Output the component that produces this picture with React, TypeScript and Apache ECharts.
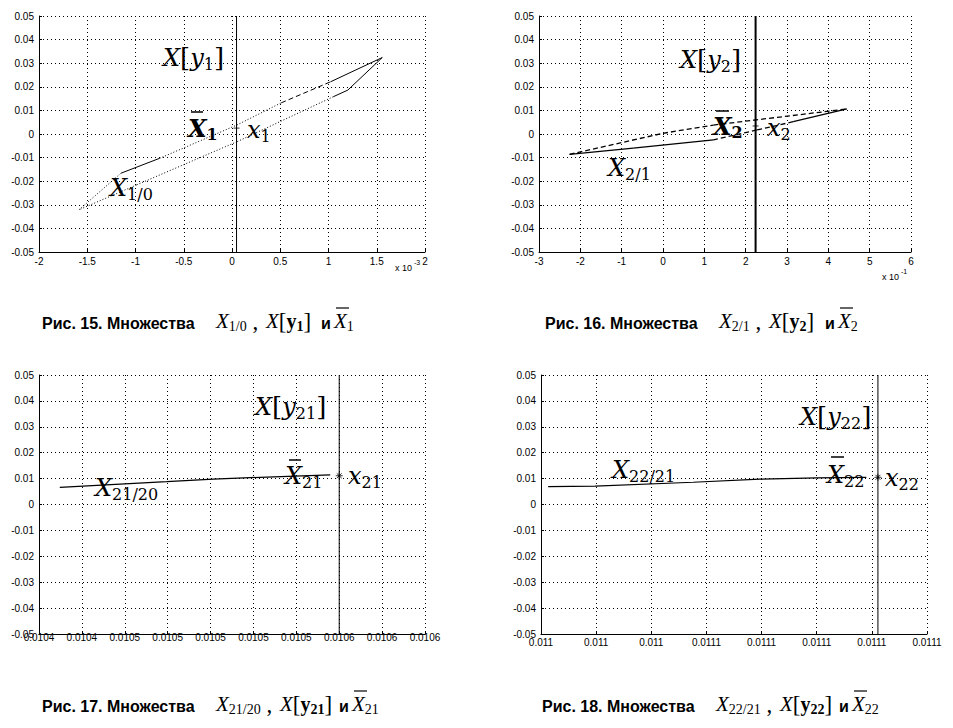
import React, { useEffect, useRef } from "react";
import * as echarts from "echarts";

// ---------- data ----------
// Рис. 15 : X_{1/0} polygon (x in units of 1e-3)
const p1Vertices: [number, number][] = [
  [-1.585, -0.0321],
  [-1.15, -0.0166],
  [-0.75, -0.0103],
  [0.05, 0.0038],
  [0.51, 0.0132],
  [1.02, 0.0221],
  [1.557, 0.0324],
  [1.2, 0.0186],
  [1.05, 0.0158],
  [0.05, -0.0033],
  [-0.99, -0.0216],
];
const p1EdgeStyles = ["dotted", "solid", "dotted", "dotted", "dashed", "solid", "solid", "solid", "dotted", "dotted", "dotted"];
const p1LineX = 0.047;
const p1Point: [number, number] = [0.047, 0.0025];

// Рис. 16 : X_{2/1} polygon (x in units of 1e-1)
const p2Vertices: [number, number][] = [
  [-2.26, -0.0086],
  [0.0, 0.0003],
  [1.22, 0.0038],
  [4.45, 0.0106],
  [3.15, 0.0052],
  [2.27, 0.0017],
  [1.22, -0.0025],
  [-0.72, -0.006],
];
const p2EdgeStyles = ["dashed", "dashed", "dashed", "solid", "dashed", "dashed", "solid", "solid"];
const p2LineX = 2.24;
const p2Point: [number, number] = [2.24, 0.0034];

// Рис. 17 : X_{21/20}
const p3Line: [number, number][] = [
  [0.0104297, 0.0066],
  [0.0104795, 0.0088],
  [0.0105013, 0.0098],
  [0.0105231, 0.0105],
  [0.0105558, 0.0114],
];
const p3LineX = 0.01056;
const p3Point: [number, number] = [0.01056, 0.0111];
const p3XLabels = ["0.0104", "0.0104", "0.0105", "0.0105", "0.0105", "0.0105", "0.0105", "0.0106", "0.0106", "0.0106"];

// Рис. 18 : X_{22/21}
const p4Line: [number, number][] = [
  [0.0110213, 0.0069],
  [0.0110298, 0.0071],
  [0.0110476, 0.0086],
  [0.0110597, 0.0098],
  [0.01107, 0.0103],
  [0.011079, 0.0105],
];
const p4LineX = 0.0110811;
const p4Point: [number, number] = [0.0110811, 0.0105];
const p4XLabels = ["0.011", "0.011", "0.011", "0.0111", "0.0111", "0.0111", "0.0111", "0.0111"];

// axes
const yMin = -0.05;
const yMax = 0.05;
const yStep = 0.01;
const xAxesDef = [
  { min: -2, max: 2, interval: 0.5, labels: null as string[] | null },
  { min: -3, max: 6, interval: 1, labels: null as string[] | null },
  { min: 0.01042, max: 0.0106, interval: 0.00002, labels: p3XLabels },
  { min: 0.01102, max: 0.01109, interval: 0.00001, labels: p4XLabels },
];

// ---------- helpers ----------
const DASH: Record<string, any> = { solid: "solid", dashed: [5, 3], dotted: [1, 2] };
const STAR = "path://M5,0L5,10M0,5L10,5M1.5,1.5L8.5,8.5M1.5,8.5L8.5,1.5";
const PLUS = "path://M5,0L5,10M0,5L10,5";

function polygonSeries(vertices: [number, number][], styles: string[], idx: number, width: number) {
  return vertices.map((v, i) => {
    const w = vertices[(i + 1) % vertices.length];
    return {
      type: "line",
      xAxisIndex: idx,
      yAxisIndex: idx,
      data: [v, w],
      symbol: "none",
      silent: true,
      lineStyle: { color: "#000", width, type: DASH[styles[i]] },
    };
  });
}
function polylineSeries(pts: [number, number][], idx: number, width: number) {
  return {
    type: "line",
    xAxisIndex: idx,
    yAxisIndex: idx,
    data: pts,
    symbol: "none",
    silent: true,
    lineStyle: { color: "#000", width },
  };
}
function vline(x: number, idx: number, width: number) {
  return polylineSeries([[x, yMin], [x, yMax]], idx, width);
}
function marker(p: [number, number], idx: number, sym: string, size: number) {
  return {
    type: "scatter",
    xAxisIndex: idx,
    yAxisIndex: idx,
    data: [p],
    symbol: sym,
    symbolSize: size,
    silent: true,
    itemStyle: { color: "rgba(0,0,0,0)", borderColor: "#000", borderWidth: 1 },
  };
}

const MF = "DejaVu Serif";
function richSet(size: number) {
  const sub = Math.round(size * 0.68);
  return {
    i: { fontFamily: MF, fontStyle: "italic", fontSize: size, fill: "#000", color: "#000" },
    ib: { fontFamily: MF, fontStyle: "italic", fontWeight: "bold", fontSize: size, fill: "#000", color: "#000" },
    n: { fontFamily: MF, fontSize: Math.round(size * 1.1), fill: "#000", color: "#000" },
    s: { fontFamily: MF, fontSize: sub, padding: [Math.round(size * 0.5), 0, 0, 0], fill: "#000", color: "#000" },
    sb: { fontFamily: MF, fontWeight: "bold", fontSize: sub, padding: [Math.round(size * 0.5), 0, 0, 0], fill: "#000", color: "#000" },
  };
}
function mtext(x: number, y: number, text: string, size: number) {
  return {
    type: "text",
    x,
    y,
    z: 100,
    silent: true,
    style: {
      text,
      rich: richSet(size),
      fill: "#000",
      font: `${size}px "${MF}"`,
      align: "left",
      verticalAlign: "middle",
      textAlign: "left",
      textVerticalAlign: "middle",
    },
  };
}
function bar(x1: number, x2: number, y: number, w = 1.5) {
  return { type: "line", z: 100, silent: true, shape: { x1, y1: y, x2, y2: y }, style: { stroke: "#000", lineWidth: w } };
}

const CF = "Liberation Serif";
function capRich() {
  return {
    i: { fontFamily: CF, fontStyle: "italic", fontSize: 21, fill: "#000", color: "#000" },
    n: { fontFamily: CF, fontSize: 23, fill: "#000", color: "#000" },
    b: { fontFamily: CF, fontWeight: "bold", fontSize: 20, fill: "#000", color: "#000" },
    s: { fontFamily: CF, fontSize: 14, padding: [10, 0, 0, 0], fill: "#000", color: "#000" },
    sb: { fontFamily: CF, fontWeight: "bold", fontSize: 14, padding: [10, 0, 0, 0], fill: "#000", color: "#000" },
  };
}
function ctext(x: number, y: number, text: string) {
  return {
    type: "text",
    x,
    y,
    z: 100,
    silent: true,
    style: {
      text,
      rich: capRich(),
      fill: "#000",
      font: `21px "${CF}"`,
      align: "left",
      verticalAlign: "middle",
      textAlign: "left",
      textVerticalAlign: "middle",
    },
  };
}
function btext(x: number, y: number, text: string) {
  return {
    type: "text",
    x,
    y,
    z: 100,
    silent: true,
    style: {
      text,
      fill: "#000",
      font: `bold 16px "Liberation Sans"`,
      align: "left",
      verticalAlign: "middle",
      textAlign: "left",
      textVerticalAlign: "middle",
    },
  };
}
function stext(x: number, y: number, text: string, size: number) {
  return {
    type: "text",
    x,
    y,
    z: 100,
    silent: true,
    style: {
      text,
      fill: "#000",
      font: `${size}px "Liberation Sans"`,
      align: "left",
      verticalAlign: "middle",
      textAlign: "left",
      textVerticalAlign: "middle",
    },
  };
}

function caption(x0: number, y: number, num: string, xs: number[], partA: string, partB: string, barSub: string) {
  return [
    btext(x0, y, `Рис. ${num}. Множества`),
    ctext(xs[0], y - 2, partA),
    ctext(xs[1], y - 2, partB),
    btext(xs[2], y, "и"),
    ctext(xs[3], y - 2, `{i|X}{s|${barSub}}`),
    bar(xs[3] + 2, xs[3] + 15, y - 15, 1.2),
  ];
}

export default function App() {
  const ref = useRef<HTMLDivElement>(null);
  useEffect(() => {
    if (!ref.current) return;
    const chart = echarts.init(ref.current, null, { renderer: "svg" });
    const grids = [
      { left: 39, top: 16, width: 386, height: 236 },
      { left: 539, top: 16, width: 372, height: 236 },
      { left: 39, top: 375, width: 386, height: 259 },
      { left: 541, top: 375, width: 386, height: 259 },
    ];
    const labelMargins = [4, 4, -2, 3];
    const xAxis = xAxesDef.map((d, i) => ({
      type: "value",
      gridIndex: i,
      min: d.min,
      max: d.max,
      interval: d.interval,
      axisLine: { show: true, onZero: false, lineStyle: { color: "#000", width: 1 } },
      axisTick: { show: true, inside: true, length: 3, lineStyle: { color: "#000" } },
      axisLabel: {
        color: "#000",
        fontFamily: "Liberation Sans",
        fontSize: 10,
        margin: labelMargins[i],
        showMinLabel: true,
        showMaxLabel: true,
        hideOverlap: false,
        formatter: d.labels ? (_v: number, idx: number) => (d.labels as string[])[idx] ?? "" : undefined,
      },
      splitLine: { show: true, lineStyle: { color: "#000", width: 1, type: [1, 3] } },
    }));
    const yAxis = grids.map((_g, i) => ({
      type: "value",
      gridIndex: i,
      min: yMin,
      max: yMax,
      interval: yStep,
      axisLine: { show: true, onZero: false, lineStyle: { color: "#000", width: 1 } },
      axisTick: { show: true, inside: true, length: 3, lineStyle: { color: "#000" } },
      axisLabel: { color: "#000", fontFamily: "Liberation Sans", fontSize: 10, margin: 5, showMinLabel: true, showMaxLabel: true },
      splitLine: { show: true, lineStyle: { color: "#000", width: 1, type: [1, 3] } },
    }));

    const series: any[] = [
      ...polygonSeries(p1Vertices, p1EdgeStyles, 0, 1),
      vline(p1LineX, 0, 1),
      marker(p1Point, 0, PLUS, 6),
      ...polygonSeries(p2Vertices, p2EdgeStyles, 1, 1.3),
      vline(p2LineX, 1, 2),
      marker(p2Point, 1, PLUS, 6),
      polylineSeries(p3Line, 2, 1.3),
      vline(p3LineX, 2, 1),
      marker(p3Point, 2, STAR, 7),
      polylineSeries(p4Line, 3, 1.2),
      vline(p4LineX, 3, 1),
      marker(p4Point, 3, STAR, 7),
    ];

    const graphics: any[] = [
      // plot 1
      mtext(163, 58, "{i|X}{n|[}{i|y}{s|1}{n|]}", 24),
      mtext(188, 128, "{ib|X}{sb|1}", 24),
      bar(191, 203, 112),
      mtext(247, 130, "{i|x}{s|1}", 24),
      mtext(110, 188, "{i|X}{s|1/0}", 24),
      // plot 2
      mtext(680, 60, "{i|X}{n|[}{i|y}{s|2}{n|]}", 24),
      mtext(713, 126, "{ib|X}{sb|2}", 24),
      bar(716, 729, 111),
      mtext(767, 128, "{i|x}{s|2}", 24),
      mtext(608, 168, "{i|X}{s|2/1}", 24),
      // plot 3
      mtext(255, 407, "{i|X}{n|[}{i|y}{s|21}{n|]}", 24),
      mtext(285, 476, "{i|X}{s|21}", 24),
      bar(289, 301, 460),
      mtext(348, 476, "{i|x}{s|21}", 24),
      mtext(95, 488, "{i|X}{s|21/20}", 24),
      // plot 4
      mtext(800, 417, "{i|X}{n|[}{i|y}{s|22}{n|]}", 24),
      mtext(827, 475, "{i|X}{s|22}", 24),
      bar(831, 844, 457),
      mtext(885, 478, "{i|x}{s|22}", 24),
      mtext(612, 470, "{i|X}{s|22/21}", 24),
      // exponent labels
      stext(395, 268, "x 10", 9),
      stext(414, 262, "-3", 7),
      stext(882, 277, "x 10", 9),
      stext(901, 271, "-1", 7),
      // captions
      ...caption(42, 323, "15", [216, 266, 321, 334], "{i|X}{s|1/0}{n| ,}", "{i|X}{n|[}{b|y}{sb|1}{n|]}", "1"),
      ...caption(545, 323, "16", [719, 769, 825, 838], "{i|X}{s|2/1}{n| ,}", "{i|X}{n|[}{b|y}{sb|2}{n|]}", "2"),
      ...caption(42, 706, "17", [216, 280, 339, 352], "{i|X}{s|21/20}{n| ,}", "{i|X}{n|[}{b|y}{sb|21}{n|]}", "21"),
      ...caption(542, 706, "18", [716, 780, 839, 852], "{i|X}{s|22/21}{n| ,}", "{i|X}{n|[}{b|y}{sb|22}{n|]}", "22"),
    ];

    chart.setOption({
      animation: false,
      backgroundColor: "#fff",
      grid: grids,
      xAxis,
      yAxis,
      series,
      graphic: { elements: graphics },
    });
    return () => chart.dispose();
  }, []);
  return (
    <div
      ref={ref}
      style={{ position: "absolute", left: 0, top: 0, width: 953, height: 728, background: "#fff" }}
    />
  );
}
